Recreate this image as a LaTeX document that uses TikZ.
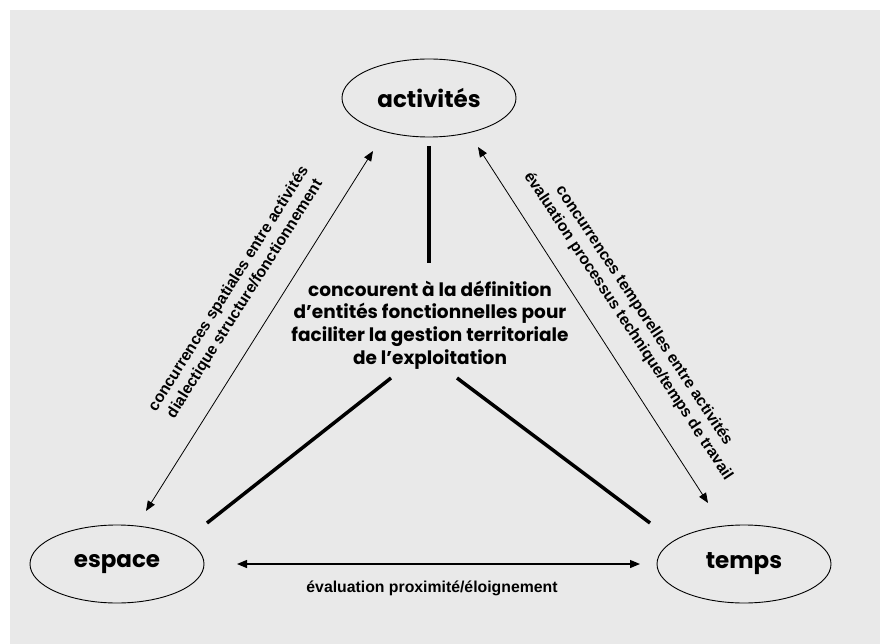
\documentclass[tikz,border=0pt]{standalone}
\usepackage{fontspec}
\setmainfont{Liberation Sans}
\newfontfamily\comicfont{Poppins}
\usetikzlibrary{arrows.meta,shapes.geometric}
\definecolor{bg}{HTML}{E9E9E9}
\begin{document}
\begin{tikzpicture}[x=1pt,y=-1pt,
  oval/.style={ellipse, draw, line width=0.9pt, minimum width=174pt, minimum height=78pt, inner sep=0pt,
    font=\comicfont\bfseries\fontsize{23}{27}\selectfont},
  bar/.style={line width=3.5pt},
  twoway/.style={line width=0.8pt, {Triangle[length=10pt,width=8pt]}-{Triangle[length=10pt,width=8pt]}},
  lbl/.style={font=\bfseries\fontsize{15.8}{19}\selectfont, align=center, inner sep=0pt},
  centre/.style={font=\comicfont\bfseries\fontsize{18.5}{22.7}\selectfont, align=center, inner sep=0pt}
]
\useasboundingbox (0,0) rectangle (880,644);
\fill[bg] (10,10) rectangle (880,644);

\node[oval] (act) at (429,98) {activités};
\node[oval] (esp) at (117,564) {espace};
\node[oval] (tmp) at (744,564) {temps};

\node[centre] (ctr) at (430,325) {concourent à la définition\\d’entités fonctionnelles pour\\faciliter la gestion territoriale\\de l’exploitation};

% thick connectors
\coordinate (vtop) at (429,146);
\coordinate (vbot) at (429,263);
\coordinate (ltop) at (391,378);
\coordinate (lbot) at (207,523);
\coordinate (rtop) at (457,378);
\coordinate (rbot) at (650,523);
\draw[bar] (vtop) -- (vbot);
\draw[bar] (ltop) -- (lbot);
\draw[bar] (rtop) -- (rbot);

% thin double arrows
\coordinate (la1) at (373,151);
\coordinate (la2) at (146,511);
\coordinate (ra1) at (478,147);
\coordinate (ra2) at (708,503);
\coordinate (ha1) at (237,564);
\coordinate (ha2) at (640,564);
\draw[twoway] (la2) -- (la1);
\draw[twoway] (ra1) -- (ra2);
\draw[twoway, line width=1.2pt] (ha1) -- (ha2);

% labels
\node[lbl, rotate=57.8] (llbl) at (237,294) {concurrences spatiales entre activités\\dialectique structure/fonctionnement};
\node[lbl, rotate=-56.5] (rlbl) at (636,321) {concurrences temporelles entre activités\\évaluation processus technique/temps de travail};
\node[lbl] (hlbl) at (432,588) {évaluation proximité/éloignement};
\end{tikzpicture}
\end{document}
